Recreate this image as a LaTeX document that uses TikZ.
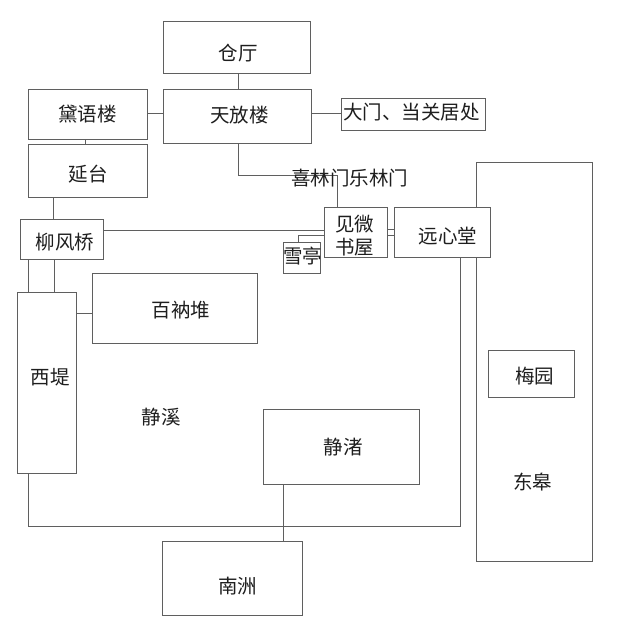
\documentclass[tikz,border=0pt]{standalone}
\usepackage{fontspec}
\setmainfont{Noto Sans CJK SC}
\definecolor{linec}{RGB}{95,95,95}
\definecolor{txtc}{RGB}{30,30,30}
\begin{document}
\begin{tikzpicture}[x=1pt,y=-1pt,
  box/.style={draw=linec, line width=1pt, fill=white, inner sep=0pt},
  lbl/.style={inner sep=0pt, text=txtc, font=\fontsize{19.5}{23}\selectfont, align=center},
  conn/.style={draw=linec, line width=1pt}]
\useasboundingbox[fill=white] (0,0) rectangle (619,634);
% boxes
\node[box, minimum width=116pt, minimum height=399pt] (dg) at (534,361.5) {};
\node[box, minimum width=86pt,  minimum height=47pt]  (my) at (531,373.5) {};
\node[box, minimum width=147pt, minimum height=51pt]  (cang) at (236.5,47.5) {};
\node[box, minimum width=148pt, minimum height=54pt]  (tf) at (237,116) {};
\node[box, minimum width=119pt, minimum height=50pt]  (dai) at (87.5,114) {};
\node[box, minimum width=119pt, minimum height=53pt]  (yan) at (87.5,170.5) {};
\node[box, minimum width=83pt,  minimum height=40pt]  (lfq) at (61.5,239) {};
\node[box, minimum width=63pt,  minimum height=50pt]  (jw) at (355.5,232) {};
\node[box, minimum width=96pt,  minimum height=50pt]  (yx) at (442,232) {};
\node[box, minimum width=37pt,  minimum height=31pt]  (xt) at (301.5,257.5) {};
\node[box, minimum width=59pt,  minimum height=181pt] (xd) at (46.5,382.5) {};
\node[box, minimum width=165pt, minimum height=70pt]  (bn) at (174.5,308) {};
\node[box, minimum width=156pt, minimum height=75pt]  (jz) at (341,446.5) {};
\node[box, minimum width=140pt, minimum height=74pt]  (nz) at (232,578) {};
\node[box, minimum width=144pt, minimum height=32pt]  (dm) at (413,114) {};
% connectors
\draw[conn] ([xshift=1.5pt]cang.south) -- ([xshift=1pt]tf.north);
\draw[conn] ([yshift=1pt]dai.east) coordinate (a1) -- (a1 -| tf.west);
\draw[conn] ([xshift=-2.5pt]dai.south) coordinate (a2) -- (a2 |- yan.north);
\draw[conn] ([xshift=-34.5pt]yan.south) coordinate (a3) -- (a3 |- lfq.north);
\draw[conn] ([xshift=1pt]tf.south) -- ++(0,32) -| ([xshift=-18.5pt]jw.north);
\draw[conn] ([yshift=9pt]lfq.east) coordinate (a4) -- (a4 -| jw.west);
\draw[conn] ([xshift=-3.5pt]xt.north) |- ([yshift=-3pt]jw.west);
\draw[conn] ([yshift=3pt]jw.east) -- ([yshift=3pt]yx.west);
\draw[conn] ([yshift=-3pt]jw.east) -- ([yshift=-3pt]yx.west);
\draw[conn] ([yshift=1pt]dm.west) coordinate (a5) -- (a5 -| tf.east);
\draw[conn] ([xshift=-33.5pt]lfq.south) coordinate (a6) -- (a6 |- xd.north);
\draw[conn] ([xshift=-7.5pt]lfq.south) coordinate (a7) -- (a7 |- xd.north);
\draw[conn] ([yshift=-5pt]bn.west) coordinate (a8) -- (a8 -| xd.east);
\draw[conn] ([xshift=18pt]yx.south) -- ++(0,269) -| ([xshift=-18.5pt]xd.south);
\draw[conn] ([xshift=-58pt]jz.south) coordinate (a9) -- (a9 |- nz.north);
% labels
\node[lbl] (l-cang) at (238,53.5) {仓厅};
\node[lbl] (l-tf) at (239.5,115) {天放楼};
\node[lbl] (l-dai) at (87.5,114) {黛语楼};
\node[lbl] (l-yan) at (88,174.5) {延台};
\node[lbl] (l-lfq) at (65,242) {柳风桥};
\node[lbl] (l-xl) at (349.5,178) {喜林门乐林门};
\node[lbl] (l-dm) at (411.5,112.5) {大门、当关居处};
\node[lbl] (l-jw) at (354.5,235.5) {见微\\书屋};
\node[lbl] (l-yx) at (448,236.5) {远心堂};
\node[lbl] (l-xt) at (302.5,256.5) {雪亭};
\node[lbl] (l-bn) at (181,310) {百衲堆};
\node[lbl] (l-xd) at (50,377.5) {西堤};
\node[lbl] (l-jx) at (161,417.5) {静溪};
\node[lbl] (l-jz) at (343,447.5) {静渚};
\node[lbl] (l-nz) at (237.5,586) {南洲};
\node[lbl] (l-my) at (534.5,376) {梅园};
\node[lbl] (l-dg) at (532.5,482) {东皋};
\end{tikzpicture}
\end{document}
